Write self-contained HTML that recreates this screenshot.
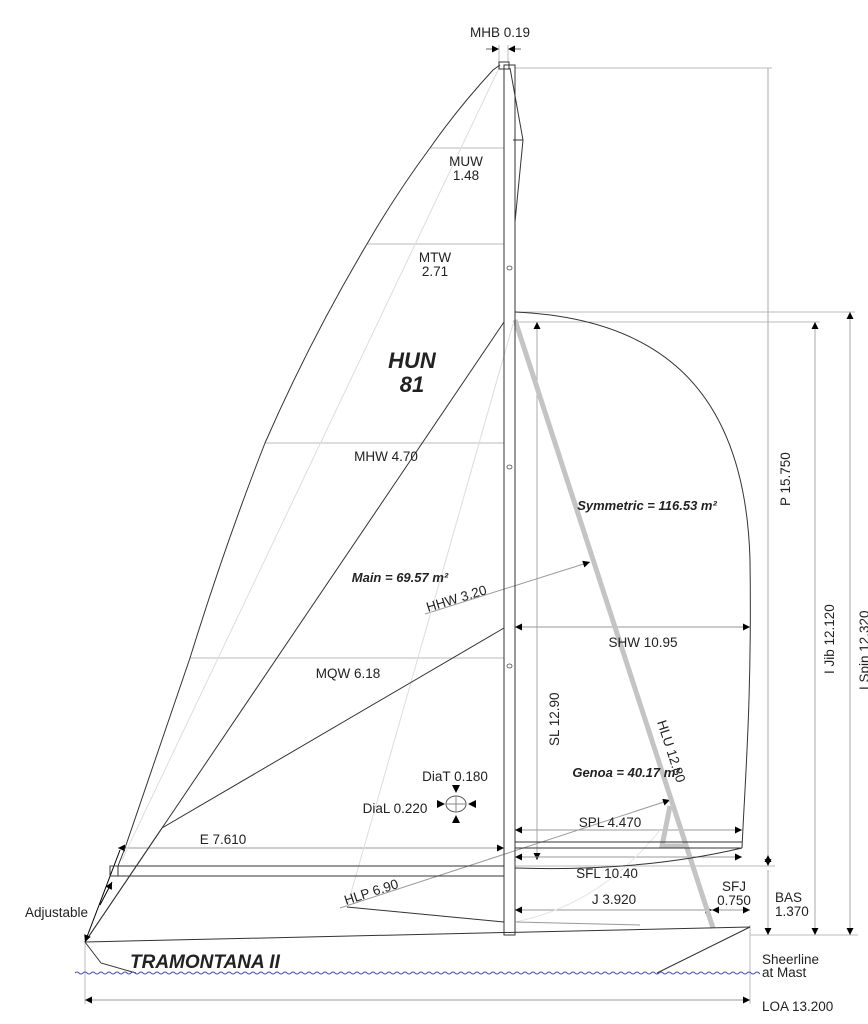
<!DOCTYPE html>
<html><head><meta charset="utf-8">
<style>
html,body{margin:0;padding:0;background:#fff;}
svg{display:block;}
text{font-family:"Liberation Sans",Arial,sans-serif;fill:#222;}
.t{font-size:13.5px;}
.b{font-weight:bold;font-style:italic;}
</style></head>
<body>
<svg width="868" height="1024" viewBox="0 0 868 1024" xmlns="http://www.w3.org/2000/svg">
<defs>
<marker id="a" viewBox="0 0 10 10" refX="10" refY="5" markerWidth="9" markerHeight="7" orient="auto-start-reverse" markerUnits="userSpaceOnUse"><path d="M0,0 L10,5 L0,10 z" fill="#000"/></marker>
<clipPath id="wc"><rect x="74" y="960" width="686" height="30"/></clipPath>
</defs>
<g fill="none" stroke="#bbb" stroke-width="1">
<line x1="515" y1="68" x2="772" y2="68"/>
<line x1="515" y1="312" x2="855" y2="312"/>
<line x1="515" y1="322" x2="820" y2="322"/>
<line x1="515" y1="866" x2="775" y2="866"/>
<line x1="750" y1="935" x2="858" y2="935"/>
<line x1="750" y1="925" x2="750" y2="1004"/>
<line x1="85" y1="942" x2="85" y2="1004"/>
<line x1="430" y1="148" x2="504" y2="148"/>
<line x1="367" y1="244" x2="504" y2="244"/>
<line x1="265" y1="443" x2="504" y2="443"/>
<line x1="190" y1="658" x2="504" y2="658"/>
<line x1="537" y1="322" x2="537" y2="860" marker-start="url(#a)" marker-end="url(#a)" stroke="#aaa"/>
<line x1="768" y1="68" x2="768" y2="855" stroke="#aaa"/>
<line x1="768" y1="855" x2="768" y2="866" marker-start="url(#a)" marker-end="url(#a)" stroke="#aaa"/>
<line x1="768" y1="870" x2="768" y2="935" marker-end="url(#a)" stroke="#aaa"/>
<line x1="815" y1="322" x2="815" y2="935" marker-start="url(#a)" marker-end="url(#a)" stroke="#aaa"/>
<line x1="850" y1="312" x2="850" y2="935" marker-start="url(#a)" marker-end="url(#a)" stroke="#aaa"/>
<line x1="515" y1="627" x2="750" y2="627" marker-start="url(#a)" marker-end="url(#a)" stroke="#999"/>
<line x1="515" y1="830" x2="742" y2="830" marker-start="url(#a)" marker-end="url(#a)" stroke="#999"/>
<line x1="515" y1="857" x2="742" y2="857" marker-start="url(#a)" marker-end="url(#a)" stroke="#999"/>
<line x1="118" y1="848" x2="504" y2="848" marker-start="url(#a)" marker-end="url(#a)" stroke="#999"/>
<line x1="515" y1="910" x2="712" y2="910" marker-start="url(#a)" marker-end="url(#a)" stroke="#999"/>
<line x1="712" y1="910" x2="750" y2="910" marker-start="url(#a)" marker-end="url(#a)" stroke="#999"/>
<line x1="85" y1="1000" x2="750" y2="1000" marker-start="url(#a)" marker-end="url(#a)" stroke="#999"/>
<line x1="425" y1="614" x2="590" y2="562" marker-end="url(#a)" stroke="#999"/>
<line x1="340" y1="908" x2="670" y2="800" marker-end="url(#a)" stroke="#999"/>
<line x1="500" y1="66" x2="122" y2="860" stroke="#ddd"/>
<line x1="513" y1="324" x2="347" y2="907" stroke="#ddd"/>
<path d="M515,922 Q600,905 660,830" stroke="#e4e4e4"/>
<line x1="486" y1="49" x2="499" y2="49" marker-end="url(#a)" stroke="#666"/>
<line x1="521" y1="49" x2="508" y2="49" marker-end="url(#a)" stroke="#666"/>
<line x1="499" y1="45" x2="499" y2="62"/><line x1="508" y1="45" x2="508" y2="62"/>
</g>
<g stroke="#c4c4c4" stroke-width="5" fill="none">
<line x1="515" y1="320" x2="713" y2="928"/>
<path d="M670,806 L662,846 L688,846"/>
</g>
<g fill="none" stroke="#333" stroke-width="1">
<path d="M500,65 L493,70 Q458,108 430,148 Q396,194 367,244 Q310,340 265,443 Q225,545 190,658 Q155,760 125,848 L118,866"/>
<line x1="504" y1="322" x2="85" y2="942"/>
<path d="M504,628 L162,828 L85,942" />
<line x1="120" y1="850" x2="85" y2="942" marker-end="url(#a)" stroke="#000"/>
<line x1="100" y1="905" x2="112" y2="882" marker-end="url(#a)" stroke="#000"/>
<rect x="110" y="866" width="394" height="10"/>
<line x1="118" y1="866" x2="118" y2="876"/>
<rect x="504" y="65" width="11" height="870"/>
<rect x="499" y="62" width="10" height="7"/>
<path d="M510,68 L523,140 L515,222 M513,140 L523,140"/>
<path d="M347,907 L504,922"/>
<path d="M515,312 C650,318 745,380 750,560 C752,700 745,780 742,848"/>
<path d="M515,842 L742,842 M515,848 L742,848"/>
<path d="M742,848 Q640,872 515,868"/>
<path d="M85,942 L750,927"/>
<path d="M515,922 L640,925" stroke="#999"/>
<path d="M85,942 L101,963 L136,973"/>
<path d="M750,927 L657,973"/>
<ellipse cx="456" cy="804" rx="10" ry="8" stroke="#555"/>
<line x1="446" y1="804" x2="466" y2="804" stroke="#888"/><line x1="456" y1="796" x2="456" y2="812" stroke="#888"/>
</g>
<g fill="#000">
<path d="M452,785 L460,785 L456,793z"/><path d="M452,823 L460,823 L456,815z"/>
<path d="M437,800 L437,808 L445,804z"/><path d="M476,800 L476,808 L468,804z"/>
</g>
<g fill="none" stroke="#444" stroke-width="0.8">
<ellipse cx="509.5" cy="268" rx="2.5" ry="2"/><ellipse cx="509.5" cy="467" rx="2.5" ry="2"/><ellipse cx="509.5" cy="666" rx="2.5" ry="2"/>
</g>
<g clip-path="url(#wc)">
<path d="M75,973 q2,-2 4,0 t4,0 t4,0 t4,0 t4,0 t4,0 t4,0 t4,0 t4,0 t4,0 t4,0 t4,0 t4,0 t4,0 t4,0 t4,0 t4,0 t4,0 t4,0 t4,0 t4,0 t4,0 t4,0 t4,0 t4,0 t4,0 t4,0 t4,0 t4,0 t4,0 t4,0 t4,0 t4,0 t4,0 t4,0 t4,0 t4,0 t4,0 t4,0 t4,0 t4,0 t4,0 t4,0 t4,0 t4,0 t4,0 t4,0 t4,0 t4,0 t4,0 t4,0 t4,0 t4,0 t4,0 t4,0 t4,0 t4,0 t4,0 t4,0 t4,0 t4,0 t4,0 t4,0 t4,0 t4,0 t4,0 t4,0 t4,0 t4,0 t4,0 t4,0 t4,0 t4,0 t4,0 t4,0 t4,0 t4,0 t4,0 t4,0 t4,0 t4,0 t4,0 t4,0 t4,0 t4,0 t4,0 t4,0 t4,0 t4,0 t4,0 t4,0 t4,0 t4,0 t4,0 t4,0 t4,0 t4,0 t4,0 t4,0 t4,0 t4,0 t4,0 t4,0 t4,0 t4,0 t4,0 t4,0 t4,0 t4,0 t4,0 t4,0 t4,0 t4,0 t4,0 t4,0 t4,0 t4,0 t4,0 t4,0 t4,0 t4,0 t4,0 t4,0 t4,0 t4,0 t4,0 t4,0 t4,0 t4,0 t4,0 t4,0 t4,0 t4,0 t4,0 t4,0 t4,0 t4,0 t4,0 t4,0 t4,0 t4,0 t4,0 t4,0 t4,0 t4,0 t4,0 t4,0 t4,0 t4,0 t4,0 t4,0 t4,0 t4,0 t4,0 t4,0 t4,0 t4,0 t4,0 t4,0 t4,0 t4,0 t4,0 t4,0 t4,0 t4,0 t4,0 t4,0 t4,0 t4,0 t4,0 t4,0 t4,0 t4,0 t4,0 t4,0 t4,0 t4,0 t4,0 t4,0 t4,0 t4,0 t4,0 t4,0 t4,0 t4,0 t4,0 t4,0 t4,0 t4,0 t4,0 t4,0 t4,0 t4,0 t4,0 t4,0 t4,0 t4,0 t4,0 t4,0 t4,0 t4,0 t4,0 t4,0 t4,0 t4,0" fill="none" stroke="#4450b0" stroke-width="1"/>
</g>
<g class="t">
<text x="500" y="37" text-anchor="middle">MHB 0.19</text>
<text x="466" y="166" text-anchor="middle">MUW</text>
<text x="466" y="180" text-anchor="middle">1.48</text>
<text x="435" y="262" text-anchor="middle">MTW</text>
<text x="435" y="276" text-anchor="middle">2.71</text>
<text x="386" y="461" text-anchor="middle">MHW 4.70</text>
<text x="643" y="647" text-anchor="middle">SHW 10.95</text>
<text x="348" y="678" text-anchor="middle">MQW 6.18</text>
<text x="455" y="781" text-anchor="middle">DiaT 0.180</text>
<text x="395" y="813" text-anchor="middle">DiaL 0.220</text>
<text x="223" y="844" text-anchor="middle">E 7.610</text>
<text x="610" y="827" text-anchor="middle">SPL 4.470</text>
<text x="607" y="878" text-anchor="middle">SFL 10.40</text>
<text x="614" y="904" text-anchor="middle">J 3.920</text>
<text x="734" y="891" text-anchor="middle">SFJ</text>
<text x="734" y="905" text-anchor="middle">0.750</text>
<text x="775" y="902">BAS</text>
<text x="775" y="916">1.370</text>
<text x="25" y="917">Adjustable</text>
<text x="762" y="964">Sheerline</text>
<text x="762" y="977">at Mast</text>
<text x="762" y="1011">LOA 13.200</text>
<text transform="translate(428,612) rotate(-17)">HHW 3.20</text>
<text transform="translate(346,905) rotate(-18)">HLP 6.90</text>
<text transform="translate(657,722) rotate(72)">HLU 12.80</text>
<text transform="translate(559,746) rotate(-90)">SL 12.90</text>
<text transform="translate(790,506) rotate(-90)">P 15.750</text>
<text transform="translate(834,674) rotate(-90)">I Jib 12.120</text>
<text transform="translate(869,690) rotate(-90)">I Spin 12.320</text>
</g>
<text x="412" y="368" text-anchor="middle" class="b" style="font-size:22px">HUN</text>
<text x="412" y="392" text-anchor="middle" class="b" style="font-size:22px">81</text>
<text x="647" y="510" text-anchor="middle" class="b" style="font-size:13px">Symmetric = 116.53 m²</text>
<text x="400" y="582" text-anchor="middle" class="b" style="font-size:13px">Main = 69.57 m²</text>
<text x="626" y="777" text-anchor="middle" class="b" style="font-size:13px">Genoa = 40.17 m²</text>
<text x="130" y="968" class="b" style="font-size:19px">TRAMONTANA II</text>
</svg>
</body></html>
